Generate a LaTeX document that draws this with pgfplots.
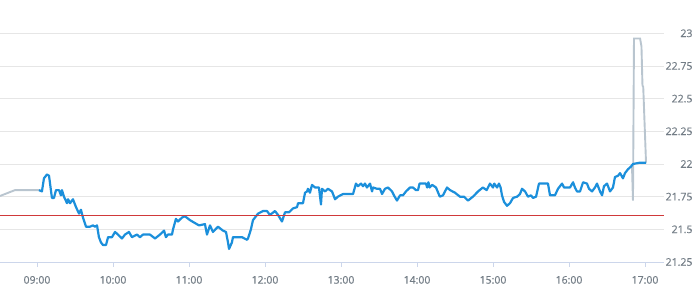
\documentclass[border=0pt]{standalone}
\usepackage{pgfplots}
\pgfplotsset{compat=1.18}
\usepackage{fontspec}
\setmainfont{Open Sans}
\newfontfamily\labfont{Open Sans}[FakeBold=0.4]
\definecolor{bluel}{HTML}{1B8FDB}
\definecolor{grayl}{HTML}{B9C5CF}
\definecolor{refline}{HTML}{D0393A}
\definecolor{gridc}{HTML}{E6E6E6}
\definecolor{axc}{HTML}{CCD6EB}
\definecolor{labc}{HTML}{737D86}
\begin{document}
\begin{tikzpicture}
\begin{axis}[
  scale only axis, width=664pt, height=262pt,
  xmin=510.8, xmax=1035, ymin=21.25, ymax=23.2546,
  clip=false,
  axis x line*=bottom, axis y line*=right,
  x axis line style={-, draw=axc, line width=0.8pt},
  y axis line style={draw=none},
  xtick={540,600,660,720,780,840,900,960,1020},
  xticklabels={09:00,10:00,11:00,12:00,13:00,14:00,15:00,16:00,17:00},
  ytick={21.25,21.5,21.75,22,22.25,22.5,22.75,23},
  yticklabels={21.25,21.5,21.75,22,22.25,22.5,22.75,23},
  xtick align=outside, major tick length=4.5pt,
  xtick style={draw=axc, line width=0.8pt},
  ytick style={draw=none},
  ymajorgrids, grid style={draw=gridc, line width=0.8pt},
  tick label style={font=\labfont\fontsize{10.5}{12}\selectfont, text=labc},
  yticklabel style={anchor=east, xshift=32pt},
  xticklabel style={yshift=-6pt},
]
\addplot[color=grayl, line width=1.9pt] coordinates {
(510.8,21.755) (522.6,21.80) (541.6,21.80)};
\addplot[color=grayl, line width=1.9pt] coordinates {
(1009.7,21.99) (1010.5,21.72) (1011.3,22.96) (1016.1,22.96) (1017.2,22.90) (1018.0,22.60) (1018.6,22.59) (1020.8,22.01)};
\addplot[color=bluel, line width=2.2pt, line join=round] coordinates {
(541.6,21.80) (543.9,21.79) (545.5,21.89) (547.9,21.92) (549.5,21.91) (551.8,21.74) (553.4,21.74)
(555.0,21.80) (557.4,21.80) (558.9,21.76) (559.7,21.80) (561.3,21.75) (563.7,21.70) (564.5,21.73)
(566.1,21.70) (568.4,21.73) (570.8,21.67) (573.2,21.62) (574.7,21.65) (576.3,21.59) (578.7,21.52)
(581.8,21.52) (584.2,21.53) (585.8,21.52) (587.4,21.53) (588.9,21.44) (590.5,21.40) (592.1,21.38)
(594.5,21.38) (596.1,21.44) (599.2,21.44) (601.6,21.48) (603.9,21.46) (607.1,21.43) (609.5,21.46)
(612.6,21.48) (615.0,21.44) (618.9,21.46) (621.3,21.44) (623.7,21.46) (629.2,21.46) (633.2,21.43)
(637.1,21.46) (640.3,21.49) (641.8,21.44) (643.4,21.46) (646.6,21.46) (647.4,21.50) (649.7,21.58)
(651.3,21.56) (654.5,21.59) (656.8,21.60) (660.8,21.57) (667.9,21.53) (672.6,21.54) (674.2,21.46)
(676.6,21.53) (678.9,21.48) (682.9,21.52) (686.8,21.49) (689.2,21.48) (690.8,21.40) (691.6,21.35)
(693.9,21.40) (694.7,21.44) (701.8,21.44) (705.8,21.42) (706.6,21.43) (708.9,21.50) (710.5,21.57)
(714.5,21.62) (718.4,21.64) (721.6,21.64) (723.9,21.61) (727.9,21.64) (730.3,21.61) (733.4,21.56)
(735.8,21.63) (738.9,21.63) (742.1,21.66) (745.3,21.67) (746.1,21.70) (750.0,21.70) (751.6,21.78)
(753.2,21.79) (753.9,21.81) (755.5,21.78) (757.1,21.84) (759.5,21.82) (762.6,21.82) (764.2,21.69)
(765.0,21.81) (767.4,21.79) (769.7,21.81) (772.9,21.79) (775.3,21.73) (777.6,21.75) (781.6,21.77)
(789.5,21.77) (791.8,21.85) (793.4,21.83) (795.8,21.85) (797.4,21.83) (798.9,21.85) (800.5,21.82)
(802.9,21.85) (804.5,21.79) (805.3,21.82) (808.4,21.81) (810.8,21.81) (812.4,21.77) (814.7,21.81)
(817.1,21.82) (820.3,21.79) (821.8,21.76) (824.2,21.72) (826.6,21.76) (828.9,21.76) (831.3,21.79)
(834.5,21.82) (836.8,21.82) (839.2,21.80) (840.8,21.80) (842.0,21.85) (847.1,21.85) (848.0,21.82)
(849.0,21.86) (850.0,21.82) (852.0,21.84) (855.0,21.82) (858.0,21.75) (860.5,21.76) (863.7,21.82)
(866.1,21.80) (870.0,21.78) (873.9,21.75) (877.1,21.75) (880.3,21.72) (884.2,21.75) (888.2,21.79)
(892.0,21.82) (895.0,21.80) (897.6,21.85) (900.0,21.82) (901.0,21.85) (903.2,21.82) (904.7,21.85)
(906.0,21.82) (907.1,21.76) (908.7,21.71) (911.1,21.68) (913.4,21.70) (915.8,21.74) (919.0,21.75)
(921.3,21.77) (922.9,21.81) (925.3,21.79) (927.6,21.75) (930.0,21.76) (931.6,21.74) (934.0,21.75)
(936.3,21.85) (943.4,21.85) (945.0,21.76) (948.9,21.76) (951.3,21.81) (954.5,21.85) (956.1,21.82)
(958.4,21.82) (960.8,21.82) (963.2,21.86) (964.7,21.82) (966.3,21.79) (968.7,21.79) (971.1,21.86)
(974.2,21.85) (975.8,21.81) (978.2,21.79) (980.5,21.82) (982.1,21.85) (984.5,21.79) (986.1,21.76)
(987.6,21.83) (990.0,21.85) (992.4,21.79) (994.7,21.82) (996.3,21.90) (998.7,21.91) (1000.3,21.93)
(1002.6,21.89) (1004.2,21.93) (1006.6,21.96) (1008.9,21.98) (1010.5,22.00) (1016.1,22.01) (1020.8,22.01)};
\addplot[color=refline, line width=1.2pt] coordinates {(510.8,21.605) (1035,21.605)};
\end{axis}
\pgfresetboundingbox
\path[use as bounding box] ([yshift=-38pt]current axis.south west) rectangle ([xshift=31pt]current axis.north east);
\end{tikzpicture}
\end{document}
